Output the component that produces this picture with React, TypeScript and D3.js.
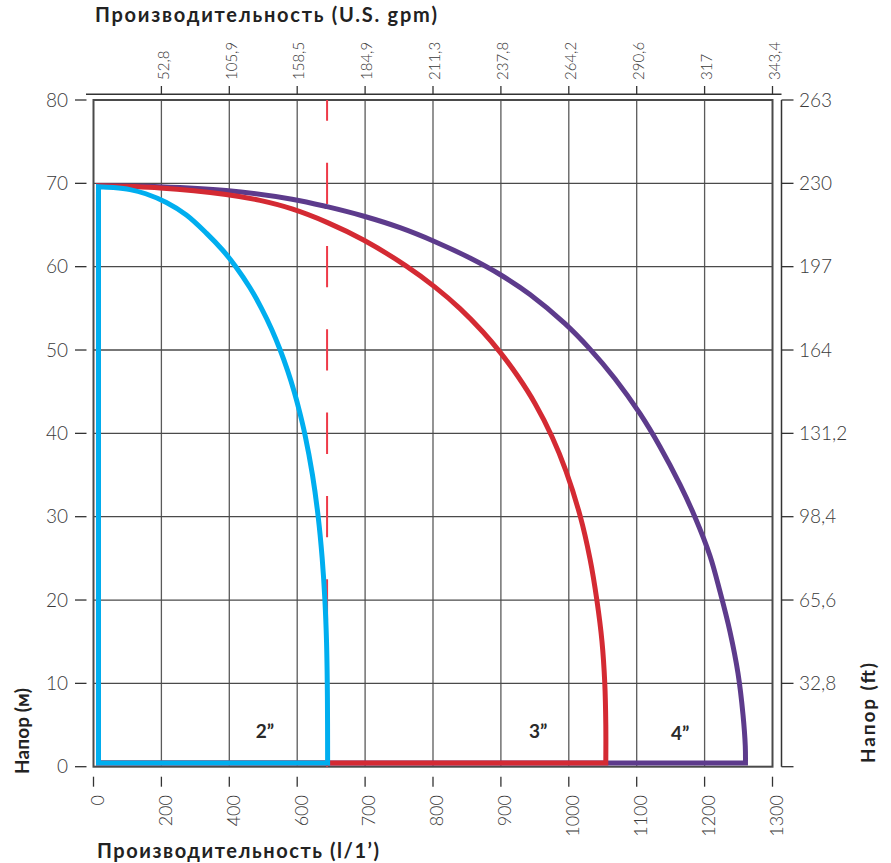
import React from 'react';
import * as d3 from 'd3';

// ---------- data ----------
const flowTicks = [0, 200, 400, 600, 700, 800, 900, 1000, 1100, 1200, 1300];
const gpmLabels = ['', '52,8', '105,9', '158,5', '184,9', '211,3', '237,8', '264,2', '290,6', '317', '343,4'];
const headTicks = [0, 10, 20, 30, 40, 50, 60, 70, 80];
const feetLabels = ['', '32,8', '65,6', '98,4', '131,2', '164', '197', '230', '263'];

// [flow l/min, head m]
const pump2: [number, number][] = [
  [14.7, 0.45], [14.7, 69.6], [58.9, 69.5], [107.5, 69.25], [153.8, 68.75], [214.7, 67.7], [273.6, 66.2],
  [333.1, 64], [380, 62], [419.1, 60], [460.4, 57.5], [494.8, 55], [524.6, 52.5], [549.9, 50],
  [572, 47.5], [591.2, 45], [603.8, 42.5], [611, 40], [622.5, 35], [630.9, 30], [636.8, 25],
  [640.8, 20], [643.2, 15], [644.3, 10], [644.7, 5], [644.8, 0.45],
];
const pump3: [number, number][] = [
  [14.7, 0.45], [14.7, 69.7], [195.9, 69.45], [390.3, 68.66], [490.4, 67.95], [584.7, 66.93],
  [643.9, 65.32], [698.4, 63.17], [760.2, 60.1], [803, 57.55], [839.8, 54.97], [873.6, 52.16],
  [898.7, 49.75], [925.2, 46.82], [950.2, 43.59], [975.3, 39.6], [995.9, 35.47], [1016.5, 30.15],
  [1031.2, 24.95], [1041.5, 19.9], [1048.9, 15], [1053, 10], [1054.5, 5], [1054.5, 0.45],
];
const pump4: [number, number][] = [
  [14.7, 0.45], [14.7, 69.7], [195.9, 69.6], [390.3, 69.15], [584.7, 68.1], [643.9, 67.2], [698.4, 66.05],
  [751.4, 64.68], [803, 63], [854.5, 61.04], [898.7, 59.06], [942.9, 56.66], [994.4, 53.16],
  [1031.2, 50.11], [1068, 46.56], [1104.9, 42.36], [1134.3, 38.4], [1163.8, 33.84], [1185.9, 29.94],
  [1208, 25.29], [1222.7, 21], [1237.4, 16.2], [1249.2, 11.2], [1256.6, 6.2], [1259.9, 2.5], [1260.2, 0.45],
];
const seriesNames = ['4”', '3”', '2”'];
const seriesColors = ['#5D3B8C', '#D42A33', '#00AEEF'];
const seriesData = [pump4, pump3, pump2];
const labelFlows = [1164, 955, 505];
const labelHeads = [4.0, 4.3, 4.3];
const dashFlow = 644;

// ---------- layout ----------
const W = 891, H = 863;
const left = 93.5, right = 772.5, top = 100, bottom = 766.7;
const FONT = "Lato, 'Open Sans', 'DejaVu Sans', sans-serif";

export default function App() {
  const step = (right - left) / (flowTicks.length - 1);
  const x = d3.scaleLinear().domain(flowTicks).range(flowTicks.map((_, i) => left + i * step));
  const y = d3.scaleLinear().domain([0, 80]).range([bottom, top]);

  const curveGen = d3.line<[number, number]>().x(d => x(d[0])).y(d => y(d[1])).curve(d3.curveCatmullRom.alpha(0.5));
  const makePath = (pts: [number, number][]) => {
    const p0 = pts[0];
    const inner = curveGen(pts.slice(1)) || '';
    return `M${x(p0[0])},${y(p0[1])}` + 'L' + inner.slice(1) + 'Z';
  };

  const gridX = flowTicks.slice(1, -1);
  const gridY = headTicks.slice(1, -1);
  const textColor = '#3a3a3a';

  return (
    <svg width={W} height={H} style={{ position: 'absolute', left: 0, top: 0, background: '#fff' }} fontFamily={FONT}>
      {/* grid */}
      {gridX.map(v => (
        <line key={'gx' + v} x1={x(v)} x2={x(v)} y1={top} y2={bottom} stroke="#5a5a5a" strokeWidth={1.3} />
      ))}
      {gridY.map(v => (
        <line key={'gy' + v} x1={left} x2={right} y1={y(v)} y2={y(v)} stroke="#4a4a4a" strokeWidth={1.3} />
      ))}
      {/* frame */}
      <rect x={left} y={top} width={right - left} height={bottom - top} fill="none" stroke="#4a4a4a" strokeWidth={2} />

      {/* dashed reference line */}
      <line x1={x(dashFlow)} x2={x(dashFlow)} y1={top} y2={bottom} stroke="#EE3A48" strokeWidth={2}
        strokeDasharray="41.3 42" strokeDashoffset={20.6} />

      {/* series */}
      {seriesData.map((pts, i) => (
        <path key={'s' + i} d={makePath(pts)} fill="none" stroke={seriesColors[i]} strokeWidth={5}
          strokeLinejoin="miter" />
      ))}
      {seriesNames.map((n, i) => (
        <text key={'l' + i} x={x(labelFlows[i])} y={y(labelHeads[i])} dy="0.35em" textAnchor="middle"
          fontSize={19} fontWeight={700} fill="#2a2a2a">{n}</text>
      ))}

      {/* top axis */}
      <line x1={86} x2={781.5} y1={94.3} y2={94.3} stroke="#333" strokeWidth={1.5} />
      {flowTicks.map((v, i) => i === 0 ? null : (
        <g key={'tt' + i}>
          <line x1={x(v)} x2={x(v)} y1={86} y2={94.3} stroke="#333" strokeWidth={1.3} />
          <text transform={`translate(${x(v) + 2},80) rotate(-90)`} dy="0.35em" textAnchor="start"
            fontSize={15} fontWeight={300} fill={textColor}>{gpmLabels[i]}</text>
        </g>
      ))}

      {/* bottom axis */}
      {flowTicks.map(v => (
        <g key={'bt' + v}>
          <line x1={x(v)} x2={x(v)} y1={776.7} y2={786.7} stroke="#333" strokeWidth={1.3} />
          <text transform={`translate(${x(v) + 4},795) rotate(-90)`} dy="0.35em" textAnchor="end"
            fontSize={18} fontWeight={300} fill={textColor}>{v}</text>
        </g>
      ))}

      {/* left axis */}
      {headTicks.map(v => (
        <g key={'lt' + v}>
          <line x1={75} x2={86.5} y1={y(v)} y2={y(v)} stroke="#333" strokeWidth={1.3} />
          <text x={68} y={y(v)} dy="0.35em" textAnchor="end" fontSize={19} fontWeight={300} fill={textColor}>{v}</text>
        </g>
      ))}

      {/* right axis */}
      <line x1={781.5} x2={781.5} y1={top} y2={bottom} stroke="#333" strokeWidth={1.5} />
      {headTicks.map((v, i) => (
        <g key={'rt' + v}>
          <line x1={781.5} x2={793.5} y1={y(v)} y2={y(v)} stroke="#333" strokeWidth={1.3} />
          {feetLabels[i] && (
            <text x={799} y={y(v)} dy="0.35em" textAnchor="start" fontSize={19} fontWeight={300} fill={textColor}>{feetLabels[i]}</text>
          )}
        </g>
      ))}

      {/* titles */}
      <text x={95} y={22} fontSize={20} fontWeight={700} fill="#222" textLength={342} lengthAdjust="spacing">Производительность (U.S. gpm)</text>
      <text x={97} y={858} fontSize={20} fontWeight={700} fill="#222" textLength={282} lengthAdjust="spacing">Производительность (l/1’)</text>
      <text transform="translate(22,774) rotate(-90)" dy="0.35em" fontSize={19} fontWeight={700} fill="#222" textLength={86} lengthAdjust="spacing">Напор (м)</text>
      <text transform="translate(868,763) rotate(-90)" dy="0.35em" fontSize={19} fontWeight={700} fill="#222" textLength={100} lengthAdjust="spacing">Напор (ft)</text>
    </svg>
  );
}
